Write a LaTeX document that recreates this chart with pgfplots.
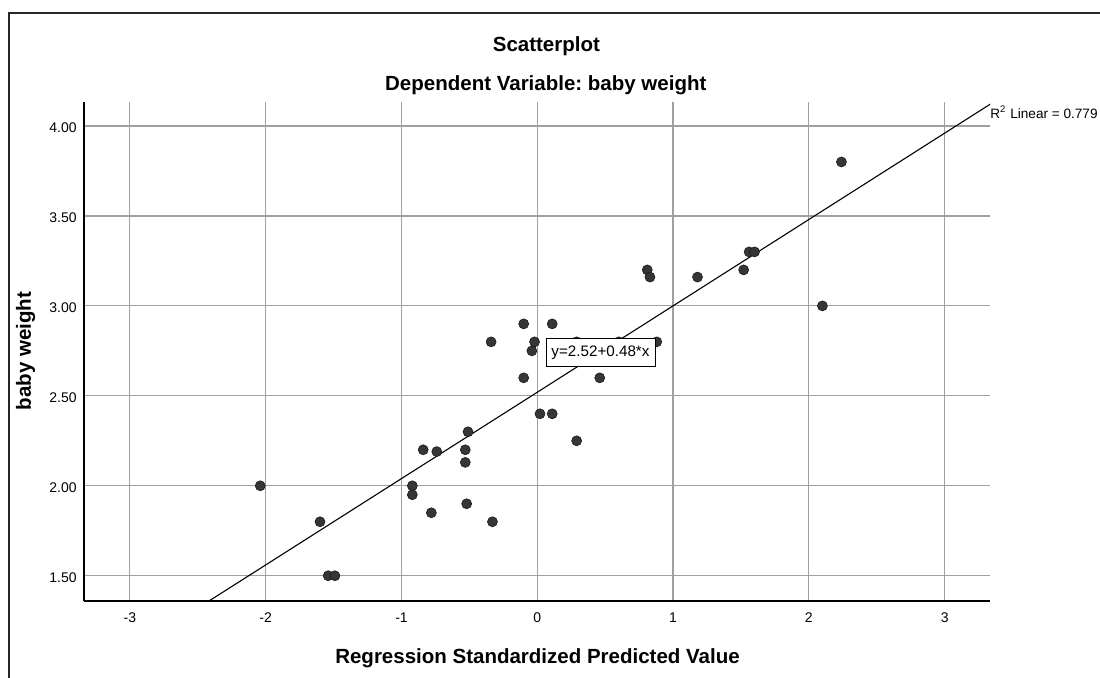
\documentclass[border=0pt]{standalone}
\usepackage{fontspec}
\setmainfont{Liberation Sans}
\usepackage{pgfplots}
\pgfplotsset{compat=1.18}
\frenchspacing

\definecolor{dot}{HTML}{363636}
\definecolor{gridgray}{HTML}{A0A0A0}

% 1 px of the reference = 0.5pt
\begin{document}
\begin{tikzpicture}
\useasboundingbox (0,0) rectangle (550pt,339pt);
\clip (0,0) rectangle (550pt,339pt);
\draw[line width=1pt, black!85] (4.5pt,-2pt) -- (4.5pt,332.5pt) -- (552pt,332.5pt);

\begin{axis}[
    at={(42pt,38.35pt)}, anchor=south west,
    width=453pt, height=249.8pt, scale only axis,
    xmin=-3.338, xmax=3.334,
    ymin=1.358, ymax=4.135,
    axis lines*=left,
    axis line style={-, line width=1pt, black},
    xtick={-3,-2,-1,0,1,2,3},
    ytick={1.5,2,2.5,3,3.5,4},
    major tick length=0pt,
    grid=major,
    major grid style={line width=0.6pt, gridgray},
    /pgf/number format/assume math mode=true,
    ticklabel style={font=\fontsize{7pt}{8pt}\selectfont},
    xticklabel style={anchor=base, yshift=-10.7pt},
    yticklabel style={anchor=base east, xshift=-3.5pt, yshift=-3.35pt, inner sep=0pt,
        /pgf/number format/.cd, fixed, fixed zerofill, precision=2},
    clip=true,
]
% fit line y = 2.52 + 0.48x
\addplot[black, line width=0.55pt] coordinates {(-2.5,1.32) (3.4,4.152)};

\addplot[only marks, mark=*, mark size=2.5pt,
    mark options={fill=dot, draw=black!90, line width=0.3pt}] table {
x y
-0.10 2.90
0.11 2.90
-0.34 2.80
-0.02 2.80
-0.04 2.75
0.29 2.80
0.60 2.80
0.88 2.80
-0.10 2.60
0.46 2.60
0.02 2.40
0.11 2.40
0.29 2.25
-0.51 2.30
-0.84 2.20
-0.74 2.19
-0.53 2.20
-0.53 2.13
-0.92 2.00
-0.92 1.95
-0.78 1.85
-0.52 1.90
-0.33 1.80
-2.04 2.00
-1.60 1.80
-1.54 1.50
-1.49 1.50
2.24 3.80
1.56 3.30
1.60 3.30
1.52 3.20
1.18 3.16
2.10 3.00
0.81 3.20
0.83 3.16
};
\end{axis}

\node[draw=black, line width=0.5pt, fill=white, minimum width=54.5pt, minimum height=13.85pt,
      inner sep=0pt, font=\fontsize{7.6pt}{9pt}\selectfont] at (300.25pt,162.6pt) {y=2.52+0.48*x};

\node[anchor=base west, inner sep=0pt, font=\fontsize{6.8pt}{8pt}\selectfont]
    at (495pt,279.5pt) {R\textsuperscript{2} Linear = 0.779};

\node[anchor=base, inner sep=0pt, font=\fontsize{10.25pt}{12pt}\selectfont\bfseries]
    at (273.2pt,313pt) {Scatterplot};
\node[anchor=base, inner sep=0pt, font=\fontsize{10.25pt}{12pt}\selectfont\bfseries]
    at (272.9pt,293.65pt) {Dependent Variable: baby weight};
\node[anchor=base, inner sep=0pt, font=\fontsize{10.25pt}{12pt}\selectfont\bfseries]
    at (268.75pt,7pt) {Regression Standardized Predicted Value};
\node[anchor=base, rotate=90, inner sep=0pt, font=\fontsize{10.25pt}{12pt}\selectfont\bfseries]
    at (15.5pt,163.5pt) {baby weight};
\end{tikzpicture}
\end{document}
